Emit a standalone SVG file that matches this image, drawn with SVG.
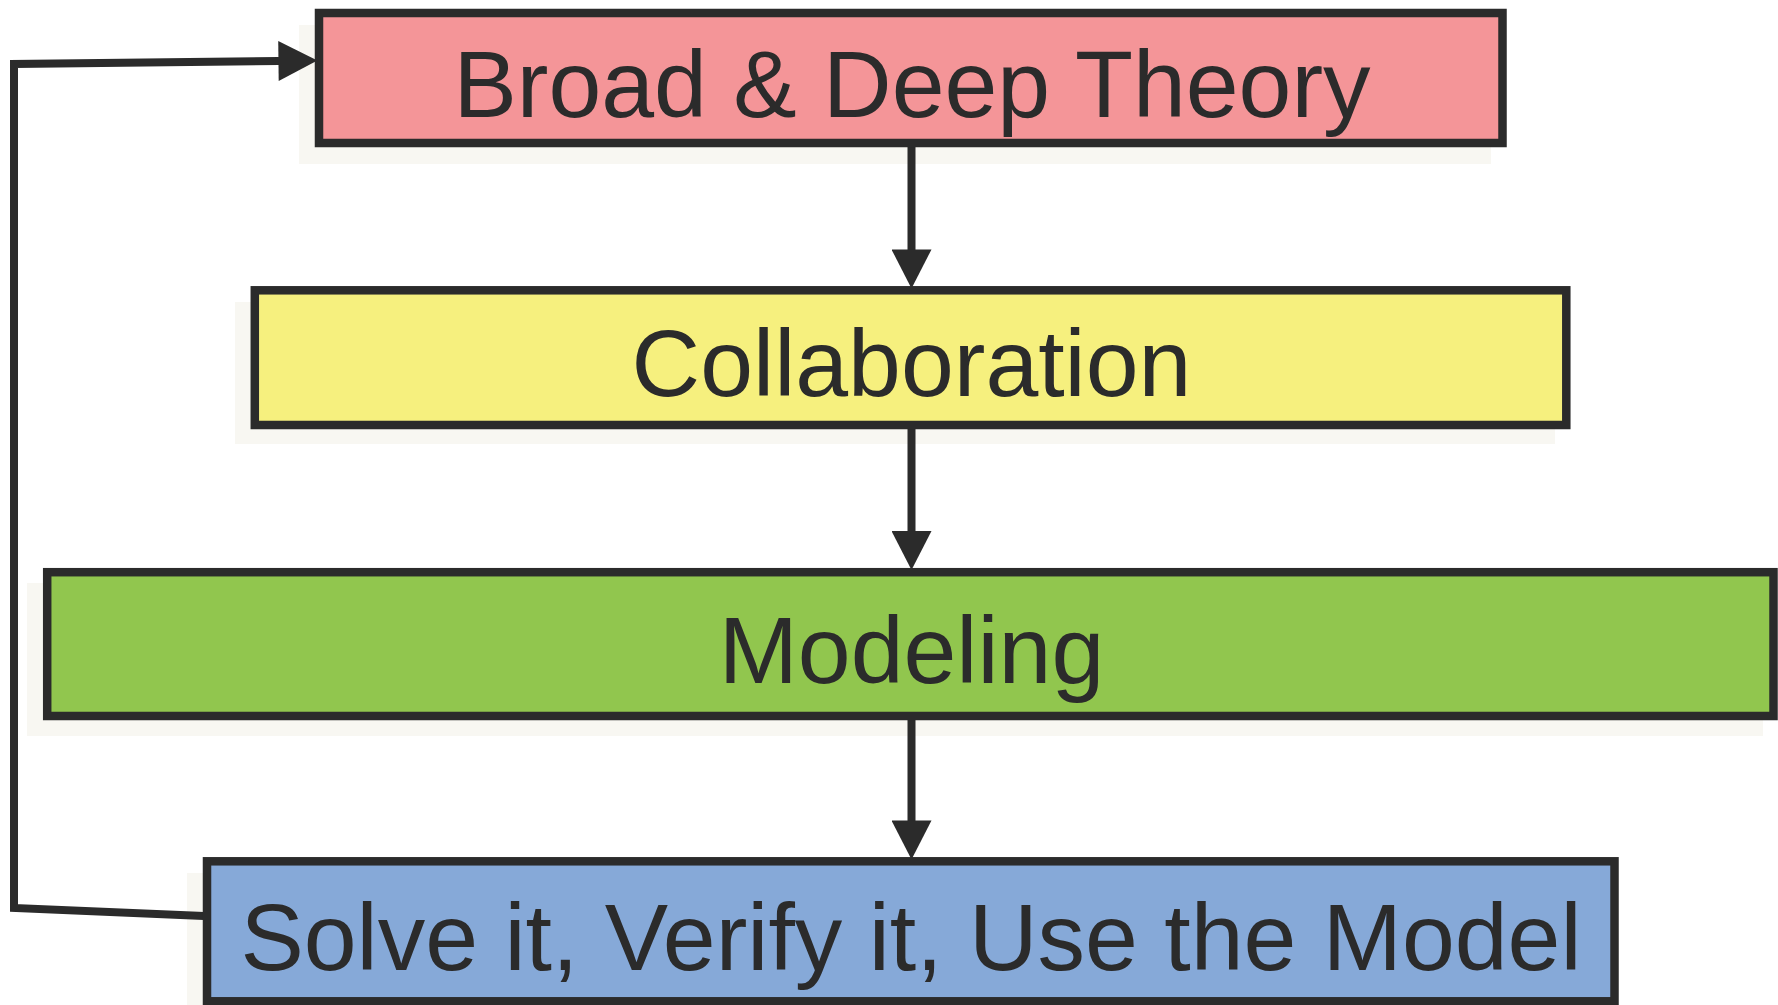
<svg xmlns="http://www.w3.org/2000/svg" width="1778" height="1005" viewBox="0 0 1778 1005">
<style>
.shadow{fill:#f8f7f2;stroke:none}
.box{stroke:#2b2b2b;stroke-width:8.5}
.lbl{font-family:"Liberation Sans",Arial,sans-serif;font-size:95px;fill:#2b2b2b;text-anchor:middle}
.conn{fill:none;stroke:#2b2b2b;stroke-width:8;stroke-linejoin:miter}
</style>
<defs>
<marker id="ah" markerUnits="userSpaceOnUse" markerWidth="40" markerHeight="40" viewBox="0 0 36 37" refX="0.5" refY="18.5" orient="auto">
<path d="M0,0 L36,18.5 L0,37 Z" fill="#2b2b2b"/>
</marker>
</defs>
<rect width="1778" height="1005" fill="#ffffff"/>
<g id="shadows">
<rect class="shadow" x="299" y="25" width="1192" height="139"/>
<rect class="shadow" x="235" y="302" width="1320" height="142"/>
<rect class="shadow" x="27" y="583" width="1736" height="153"/>
<rect class="shadow" x="187" y="873" width="1416" height="132"/>
</g>
<g id="connectors">
<line class="conn" x1="911.5" y1="147" x2="911.5" y2="250" marker-end="url(#ah)"/>
<line class="conn" x1="911.5" y1="429" x2="911.5" y2="531.5" marker-end="url(#ah)"/>
<line class="conn" x1="911.5" y1="720" x2="911.5" y2="821" marker-end="url(#ah)"/>
<polyline class="conn" points="204,916 14,908 14,64 279,61" marker-end="url(#ah)"/>
</g>
<g id="node-theory">
<rect class="box" x="319" y="13" width="1183.5" height="130" fill="#f49598"/>
<text class="lbl" x="912" y="116.7">Broad &amp; Deep Theory</text>
</g>
<g id="node-collaboration">
<rect class="box" x="254.8" y="290.3" width="1311.5" height="134.7" fill="#f6f07e"/>
<text class="lbl" x="911.5" y="396">Collaboration</text>
</g>
<g id="node-modeling">
<rect class="box" x="47.2" y="572.2" width="1726.3" height="143.8" fill="#91c64e"/>
<text class="lbl" x="911.5" y="682.5">Modeling</text>
</g>
<g id="node-solve">
<rect class="box" x="207" y="861.3" width="1407.5" height="140" fill="#86a9d8"/>
<text class="lbl" x="911" y="969.5">Solve it, Verify it, Use the Model</text>
</g>
</svg>
